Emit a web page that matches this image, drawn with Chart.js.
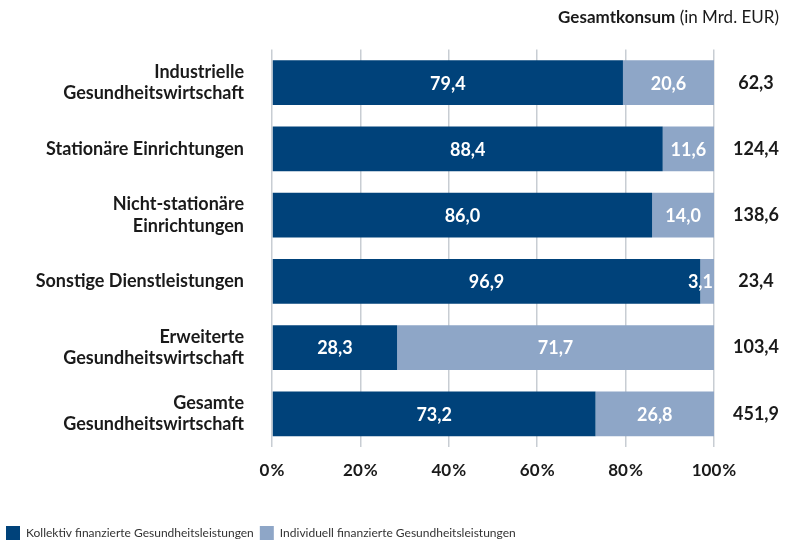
<!DOCTYPE html>
<html lang="de">
<head>
<meta charset="utf-8">
<script src="https://cdn.jsdelivr.net/npm/chart.js@4.4.1/dist/chart.umd.min.js"></script>
<style>
  html, body { margin: 0; padding: 0; background: #fff; }
  #wrap { width: 791px; height: 542px; position: relative; }
</style>
</head>
<body>
<div id="wrap"><canvas id="gwChart"></canvas></div>
<script>
// Anteile in Prozent, Gesamtkonsum in Mrd. EUR
const categories = [
    ["Industrielle", "Gesundheitswirtschaft"],
    "Stationäre Einrichtungen",
    ["Nicht-stationäre", "Einrichtungen"],
    "Sonstige Dienstleistungen",
    ["Erweiterte", "Gesundheitswirtschaft"],
    ["Gesamte", "Gesundheitswirtschaft"]
];
const kollektiv = [79.4, 88.4, 86.0, 96.9, 28.3, 73.2];
const individuell = [20.6, 11.6, 14.0, 3.1, 71.7, 26.8];
const gesamtkonsum = [62.3, 124.4, 138.6, 23.4, 103.4, 451.9];
const xTicks = [0, 20, 40, 60, 80, 100];

const FONT = "Lato, 'Open Sans', sans-serif";
const DARK = "#00427a";
const LIGHT = "#8ea6c7";

const fmt = v => v.toFixed(1).replace(".", ",");

// white value labels inside the bars
const barLabels = {
    id: "barLabels",
    afterDatasetsDraw(chart) {
        const ctx = chart.ctx;
        const right = chart.chartArea.right;
        ctx.save();
        ctx.font = "bold 18px " + FONT;
        ctx.fillStyle = "#ffffff";
        ctx.textBaseline = "middle";
        ctx.textAlign = "center";
        chart.data.datasets.forEach((ds, i) => {
            chart.getDatasetMeta(i).data.forEach((bar, j) => {
                const txt = fmt(ds.data[j]);
                const w = ctx.measureText(txt).width;
                let x = (bar.x + bar.base) / 2;
                x = Math.min(x, right - w / 2 - 1);
                ctx.fillText(txt, x, bar.y + 1);
            });
        });
        ctx.restore();
    }
};

// header above the totals column
const headerText = {
    id: "headerText",
    afterDraw(chart) {
        const ctx = chart.ctx;
        const boldPart = "Gesamtkonsum";
        const normalPart = " (in Mrd. EUR)";
        ctx.save();
        ctx.textBaseline = "middle";
        ctx.textAlign = "left";
        ctx.font = "17px " + FONT;
        const w2 = ctx.measureText(normalPart).width;
        ctx.font = "bold 17px " + FONT;
        const w1 = ctx.measureText(boldPart).width;
        const xEnd = 779;
        ctx.fillStyle = "#1a1a1a";
        ctx.fillText(boldPart, xEnd - w1 - w2, 18);
        ctx.font = "17px " + FONT;
        ctx.fillText(normalPart, xEnd - w2, 18);
        ctx.restore();
    }
};

const ctx = document.getElementById("gwChart").getContext("2d");
const gwChart = new Chart(ctx, {
    type: "bar",
    data: {
        labels: categories,
        datasets: [{
            label: "Kollektiv finanzierte Gesundheitsleistungen",
            data: kollektiv,
            backgroundColor: DARK,
            barPercentage: 0.9,
            categoryPercentage: 0.75
        }, {
            label: "Individuell finanzierte Gesundheitsleistungen",
            data: individuell,
            backgroundColor: LIGHT,
            barPercentage: 0.9,
            categoryPercentage: 0.75
        }]
    },
    plugins: [barLabels, headerText],
    options: {
        indexAxis: "y",
        responsive: true,
        maintainAspectRatio: false,
        animation: false,
        layout: { padding: { top: 48, left: 0, right: 0, bottom: -8 } },
        scales: {
            x: {
                stacked: true,
                min: 0,
                max: 100,
                afterBuildTicks: scale => { scale.ticks = xTicks.map(v => ({ value: v })); },
                afterFit: scale => { scale.height = 73; },
                grid: { color: "#c8cdd3", lineWidth: 1.5, drawTicks: false },
                border: { display: false },
                ticks: {
                    padding: 13,
                    color: "#1a1a1a",
                    font: { family: FONT, size: 17, weight: "bold" },
                    callback: v => v + "\u200a%"
                }
            },
            y: {
                stacked: true,
                afterFit: scale => { scale.width = 272; },
                grid: { display: false, drawTicks: false },
                border: { display: false },
                ticks: {
                    padding: 28,
                    color: "#1a1a1a",
                    font: { family: FONT, size: 18, weight: "bold", lineHeight: 1.2 }
                }
            },
            totals: {
                type: "category",
                axis: "y",
                position: "right",
                offset: true,
                labels: gesamtkonsum.map(fmt),
                afterFit: scale => { scale.width = 77; },
                grid: { display: false, drawTicks: false },
                border: { display: false },
                ticks: {
                    padding: 19,
                    crossAlign: "center",
                    color: "#1a1a1a",
                    font: { family: FONT, size: 18, weight: "bold" }
                }
            }
        },
        plugins: {
            legend: {
                position: "bottom",
                align: "start",
                labels: {
                    boxWidth: 14,
                    boxHeight: 14,
                    padding: 6,
                    color: "#333333",
                    font: { family: FONT, size: 12 }
                }
            },
            tooltip: { enabled: false }
        }
    }
});
</script>
</body>
</html>
